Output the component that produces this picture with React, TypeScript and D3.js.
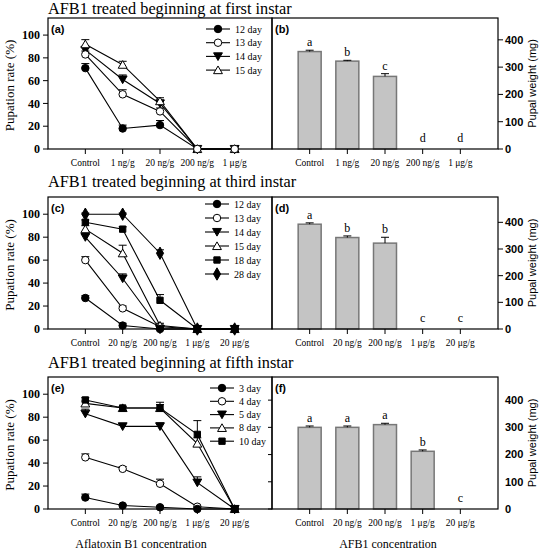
import React from 'react';
import * as d3 from 'd3';

// ---------- data ----------
const titles = [
  'AFB1 treated beginning at first instar',
  'AFB1 treated beginning at third instar',
  'AFB1 treated beginning at fifth instar',
];
const catsA = ['Control', '1 ng/g', '20 ng/g', '200 ng/g', '1 μg/g'];
const catsC = ['Control', '20 ng/g', '200 ng/g', '1 μg/g', '20 μg/g'];

const daysA = ['12 day', '13 day', '14 day', '15 day'];
const symsA = ['circleF', 'circleO', 'triDownF', 'triUpO'];
const valsA = [
  [71, 18, 21, 0, 0],
  [83, 48, 33, 0, 0],
  [87, 61, 40, 0, 0],
  [92, 74, 42, 0, 0],
];
const errA = [
  [4, 3, 4, 0, 0],
  [3, 4, 3, 0, 0],
  [3, 4, 3, 0, 0],
  [4, 3, 3, 0, 0],
];

const daysC = ['12 day', '13 day', '14 day', '15 day', '18 day', '28 day'];
const symsC = ['circleF', 'circleO', 'triDownF', 'triUpO', 'squareF', 'diamondF'];
const valsC = [
  [27, 3, 0, 0, 0],
  [60, 18, 2, 0, 0],
  [80, 44, 0, 0, 0],
  [87, 66, 3, 0, 0],
  [93, 87, 25, 0, 0],
  [100, 100, 66, 0, 0],
];
const errC = [
  [2, 2, 0, 0, 0],
  [3, 2, 0, 0, 0],
  [3, 4, 0, 0, 0],
  [3, 7, 2, 0, 0],
  [2, 2, 5, 0, 0],
  [1, 1, 3, 0, 0],
];

const daysE = ['3 day', '4 day', '5 day', '8 day', '10 day'];
const symsE = ['circleF', 'circleO', 'triDownF', 'triUpO', 'squareF'];
const valsE = [
  [10, 3, 1.5, 0, 0],
  [45, 35, 22, 2, 0],
  [83, 72, 72, 23, 0],
  [92, 88, 88, 57, 0],
  [95, 88, 88, 65, 0],
];
const errE = [
  [3, 1, 1, 0, 0],
  [3, 2, 4, 0, 0],
  [4, 0, 3, 5, 0],
  [2, 1, 3, 5, 0],
  [2, 1, 5, 12, 0],
];

const weightB = [357, 322, 266, 0, 0];
const weightErrB = [5, 3, 10, 0, 0];
const lettersB = ['a', 'b', 'c', 'd', 'd'];
const weightD = [393, 343, 322, 0, 0];
const weightErrD = [5, 6, 22, 0, 0];
const lettersD = ['a', 'b', 'b', 'c', 'c'];
const weightF = [300, 300, 310, 212, 0];
const weightErrF = [5, 5, 5, 5, 0];
const lettersF = ['a', 'a', 'a', 'b', 'c'];

const pctTicks = [0, 20, 40, 60, 80, 100];
const wTicks = [0, 100, 200, 300, 400];

// ---------- layout ----------
const LX0 = 48, MID = 272, RX1 = 498;
const rows = [
  { top: 18, bottom: 149, title: 14 },
  { top: 197, bottom: 329, title: 187 },
  { top: 377, bottom: 509, title: 368 },
];
const SERIF = '"Liberation Serif", "Times New Roman", serif';
const SANS = '"Liberation Sans", Arial, sans-serif';

function symbolPath(kind: string) {
  let type: any = d3.symbolCircle;
  let size = 44;
  if (kind.startsWith('tri')) { type = d3.symbolTriangle; size = 34; }
  if (kind.startsWith('square')) { type = d3.symbolSquare; size = 40; }
  if (kind.startsWith('diamond')) { type = d3.symbolDiamond; size = 44; }
  return d3.symbol().type(type).size(size)() as string;
}
function Marker({ kind, x, y }: { kind: string; x: number; y: number }) {
  const filled = kind.endsWith('F');
  const rot = kind.startsWith('triDown') ? 180 : 0;
  const dy = kind.startsWith('triUp') ? 1 : kind.startsWith('triDown') ? -1 : 0;
  return (
    <path
      d={symbolPath(kind)}
      transform={`translate(${x},${y + dy}) rotate(${rot})`}
      fill={filled ? '#000' : '#fff'}
      stroke="#000"
      strokeWidth={1}
    />
  );
}

function XAxis({ x, bottom, cats }: { x: any; bottom: number; cats: string[] }) {
  return (
    <g>
      {cats.map((c, i) => (
        <g key={c}>
          <line x1={x(i + 1)} x2={x(i + 1)} y1={bottom} y2={bottom + 5} stroke="#000" />
          <text x={x(i + 1)} y={bottom + 17} textAnchor="middle" fontFamily={SERIF} fontSize={9.5}>{c}</text>
        </g>
      ))}
    </g>
  );
}

function LinePanel({ row, cats, days, syms, vals, errs, tag, legX, legY, legDy, topIdx }: any) {
  const { top, bottom } = rows[row];
  const x = d3.scaleLinear().domain([0, 6]).range([LX0, MID]);
  const y = d3.scaleLinear().domain([0, 115]).range([bottom, top]);
  const line = d3.line<number>().x((_, i) => x(i + 1)).y((v) => y(v));
  const order = vals.map((_: any, k: number) => k).filter((k: number) => k !== topIdx).concat([topIdx]);
  return (
    <g>
      <rect x={LX0} y={top} width={MID - LX0} height={bottom - top} fill="none" stroke="#000" strokeWidth={1.2} />
      {pctTicks.map((t) => (
        <g key={t}>
          <line x1={LX0 - 5} x2={LX0} y1={y(t)} y2={y(t)} stroke="#000" />
          <text x={LX0 - 8} y={y(t)} dy="0.35em" textAnchor="end" fontFamily={SERIF} fontWeight="bold" fontSize={12}>{t}</text>
        </g>
      ))}
      <text transform={`translate(14,${(top + bottom) / 2 + 2}) rotate(-90)`} textAnchor="middle" fontFamily={SERIF} fontSize={13}>Pupation rate (%)</text>
      <XAxis x={x} bottom={bottom} cats={cats} />
      <text x={LX0 + 3} y={top + 15} fontFamily={SANS} fontWeight="bold" fontSize={11}>{tag}</text>
      {vals.map((s: number[], k: number) => (
        <path key={'l' + k} d={line(s) as string} fill="none" stroke="#000" strokeWidth={1.1} />
      ))}
      {vals.map((s: number[], k: number) =>
        s.map((v, i) => errs[k][i] > 0 ? (
          <g key={'e' + k + '-' + i}>
            <line x1={x(i + 1)} x2={x(i + 1)} y1={y(v)} y2={y(v + errs[k][i])} stroke="#000" />
            <line x1={x(i + 1) - 4} x2={x(i + 1) + 4} y1={y(v + errs[k][i])} y2={y(v + errs[k][i])} stroke="#000" />
          </g>
        ) : null)
      )}
      {order.map((k: number) =>
        vals[k].map((v: number, i: number) => <Marker key={'m' + k + '-' + i} kind={syms[k]} x={x(i + 1)} y={y(v)} />)
      )}
      {days.map((d: string, k: number) => (
        <g key={d}>
          <line x1={legX} x2={legX + 24} y1={legY + k * legDy} y2={legY + k * legDy} stroke="#000" strokeWidth={1.1} />
          <Marker kind={syms[k]} x={legX + 12} y={legY + k * legDy} />
          <text x={legX + 29} y={legY + k * legDy} dy="0.35em" fontFamily={SERIF} fontSize={10}>{d}</text>
        </g>
      ))}
    </g>
  );
}

function BarPanel({ row, cats, vals, errs, letters, tag, ymax, ticksLeft }: any) {
  const { top, bottom } = rows[row];
  const x = d3.scaleLinear().domain([0, 6]).range([MID, RX1]);
  const y = d3.scaleLinear().domain([0, ymax]).range([bottom, top]);
  const bw = 23;
  return (
    <g>
      {vals.map((v: number, i: number) => v > 0 ? (
        <rect key={'b' + i} x={x(i + 1) - bw / 2} y={y(v)} width={bw} height={bottom - y(v)} fill="#c4c4c4" stroke="#777" strokeWidth={1.5} />
      ) : null)}
      {vals.map((v: number, i: number) => errs[i] > 0 ? (
        <g key={'e' + i}>
          <line x1={x(i + 1)} x2={x(i + 1)} y1={y(v)} y2={y(v + errs[i])} stroke="#000" />
          <line x1={x(i + 1) - 4} x2={x(i + 1) + 4} y1={y(v + errs[i])} y2={y(v + errs[i])} stroke="#000" />
        </g>
      ) : null)}
      {vals.map((v: number, i: number) => (
        <text key={'t' + i} x={x(i + 1)} y={v > 0 ? y(v + errs[i]) - 4 : bottom - 7} textAnchor="middle" fontFamily={SERIF} fontSize={12}>{letters[i]}</text>
      ))}
      <rect x={MID} y={top} width={RX1 - MID} height={bottom - top} fill="none" stroke="#000" strokeWidth={1.2} />
      {wTicks.map((t) => (
        <g key={t}>
          {ticksLeft
            ? <line x1={MID - 4} x2={MID} y1={y(t)} y2={y(t)} stroke="#000" />
            : <line x1={RX1} x2={RX1 + 5} y1={y(t)} y2={y(t)} stroke="#000" />}
          <text x={RX1 + 7} y={y(t)} dy="0.35em" fontFamily={SANS} fontWeight="bold" fontSize={11}>{t}</text>
        </g>
      ))}
      <text transform={`translate(536,${(top + bottom) / 2}) rotate(-90)`} textAnchor="middle" fontFamily={SANS} fontSize={11}>Pupal weight (mg)</text>
      <XAxis x={x} bottom={bottom} cats={cats} />
      <text x={MID + 3} y={top + 15} fontFamily={SANS} fontWeight="bold" fontSize={11}>{tag}</text>
    </g>
  );
}

export default function App() {
  return (
    <svg width={540} height={551} style={{ position: 'absolute', left: 0, top: 0, background: '#fff' }}>
      <rect width={540} height={551} fill="#fff" />
      {rows.map((r, i) => (
        <text key={i} x={LX0} y={r.title} fontFamily={SERIF} fontSize={16.3}>{titles[i]}</text>
      ))}
      <LinePanel row={0} cats={catsA} days={daysA} syms={symsA} vals={valsA} errs={errA} tag="(a)" legX={206} legY={29} legDy={13.7} topIdx={1} />
      <BarPanel row={0} cats={catsA} vals={weightB} errs={weightErrB} letters={lettersB} tag="(b)" ymax={480} />
      <LinePanel row={1} cats={catsC} days={daysC} syms={symsC} vals={valsC} errs={errC} tag="(c)" legX={205} legY={204} legDy={14} topIdx={0} />
      <BarPanel row={1} cats={catsC} vals={weightD} errs={weightErrD} letters={lettersD} tag="(d)" ymax={495} />
      <LinePanel row={2} cats={catsC} days={daysE} syms={symsE} vals={valsE} errs={errE} tag="(e)" legX={210} legY={388} legDy={13.3} topIdx={0} />
      <BarPanel row={2} cats={catsC} vals={weightF} errs={weightErrF} letters={lettersF} tag="(f)" ymax={485} ticksLeft />
      <text x={141} y={548} textAnchor="middle" fontFamily={SERIF} fontSize={12}>Aflatoxin B1 concentration</text>
      <text x={388} y={548} textAnchor="middle" fontFamily={SERIF} fontSize={12}>AFB1 concentration</text>
    </svg>
  );
}
